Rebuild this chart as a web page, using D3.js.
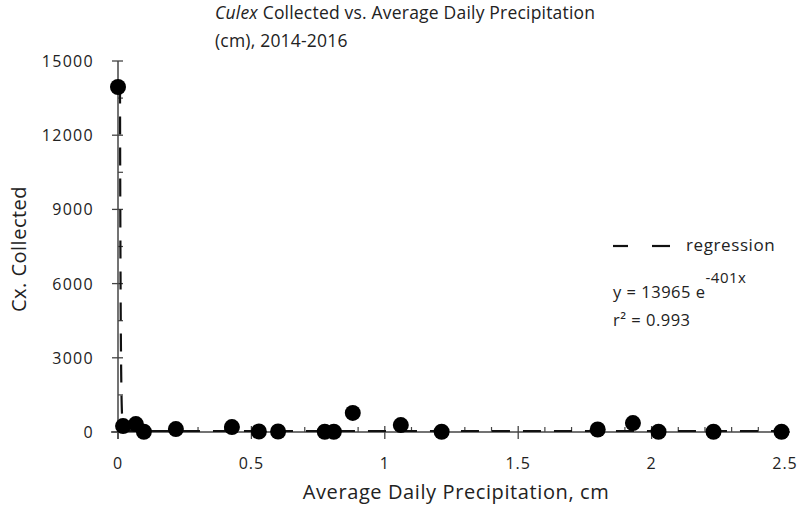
<!DOCTYPE html>
<html>
<head>
<meta charset="utf-8">
<script src="https://cdn.jsdelivr.net/npm/d3@7"></script>
<style>
  body { margin: 0; background: #fff; }
  svg { display: block; }
  text { font-family: "Open Sans", sans-serif; fill: #222; }
</style>
</head>
<body>
<svg id="chart" width="797" height="510"></svg>
<script>
// precipitation (cm) and Culex count
const precip = [0, 0.019, 0.067, 0.097, 0.217, 0.427, 0.528, 0.60, 0.775, 0.809, 0.880, 1.06, 1.213, 1.798, 1.93, 2.026, 2.232, 2.487];
const culex  = [13950, 240, 320, 10, 120, 200, 20, 20, 10, 10, 770, 280, 10, 100, 360, 10, 10, 10];
const yTicks = [0, 3000, 6000, 9000, 12000, 15000];
const xTicks = [0, 0.5, 1, 1.5, 2, 2.5];
const regA = 13965, regB = -401;

const svg = d3.select('#chart');
const mLeft = 118, mRight = 785, mTop = 61, mBottom = 432;

const x = d3.scaleLinear().domain([0, 2.5]).range([mLeft, mRight]);
const y = d3.scaleLinear().domain([0, 15000]).range([mBottom, mTop]);

// title
const title = svg.append('text').attr('x', 215).attr('y', 19)
  .style('font-size', '17.5px').style('letter-spacing', '0.2px');
title.append('tspan').style('font-style', 'italic').text('Culex');
title.append('tspan').text(' Collected vs. Average Daily Precipitation');
svg.append('text').attr('x', 215).attr('y', 47)
  .style('font-size', '17.5px').style('letter-spacing', '0.2px').text('(cm), 2014-2016');

// y axis
const yAxis = svg.append('g');
yAxis.append('line').attr('x1', mLeft).attr('x2', mLeft).attr('y1', mTop).attr('y2', mBottom + 7)
  .attr('stroke', '#444').attr('stroke-width', 1.5);
yAxis.selectAll('.maj').data(yTicks).join('line')
  .attr('x1', mLeft - 6).attr('x2', mLeft + 5)
  .attr('y1', d => y(d)).attr('y2', d => y(d))
  .attr('stroke', '#444').attr('stroke-width', 1.3);
yAxis.selectAll('.min').data(d3.range(1500, 15000, 3000)).join('line')
  .attr('x1', mLeft).attr('x2', mLeft + 5)
  .attr('y1', d => y(d)).attr('y2', d => y(d))
  .attr('stroke', '#444').attr('stroke-width', 1.2);
yAxis.selectAll('text').data(yTicks).join('text')
  .attr('x', 94).attr('y', d => y(d) + 6)
  .attr('text-anchor', 'end').style('font-size', '16px').style('letter-spacing', '1.3px')
  .text(d => d);

// x axis
const xAxis = svg.append('g');
xAxis.append('line').attr('x1', mLeft - 7).attr('x2', mRight + 5).attr('y1', mBottom).attr('y2', mBottom)
  .attr('stroke', '#444').attr('stroke-width', 1.5);
xAxis.selectAll('.maj').data(xTicks).join('line')
  .attr('x1', d => x(d)).attr('x2', d => x(d))
  .attr('y1', mBottom - 6).attr('y2', mBottom + 7)
  .attr('stroke', '#444').attr('stroke-width', 1.3);
xAxis.selectAll('.min').data(d3.range(1, 25).filter(i => i % 5 !== 0).map(i => i / 10)).join('line')
  .attr('x1', d => x(d)).attr('x2', d => x(d))
  .attr('y1', mBottom - 5).attr('y2', mBottom)
  .attr('stroke', '#444').attr('stroke-width', 1.2);
xAxis.selectAll('text').data(xTicks).join('text')
  .attr('x', d => x(d)).attr('y', 469)
  .attr('text-anchor', 'middle').style('font-size', '16px').style('letter-spacing', '1px')
  .text(d => d);

// axis titles
svg.append('text').attr('x', 456).attr('y', 499).attr('text-anchor', 'middle')
  .style('font-size', '20px').style('letter-spacing', '0.6px').text('Average Daily Precipitation, cm');
svg.append('text').attr('transform', 'translate(26,249) rotate(-90)').attr('text-anchor', 'middle')
  .style('font-size', '20px').style('letter-spacing', '0.5px').text('Cx. Collected');

// regression curve
const regPts = d3.range(0, 0.02, 0.0002).concat(d3.range(0.02, 2.5001, 0.05))
  .map(v => [v, regA * Math.exp(regB * v)]);
svg.append('path').datum(regPts)
  .attr('d', d3.line().x(d => x(d[0]) + 2).y(d => y(d[1]) - 1))
  .attr('fill', 'none').attr('stroke', '#111').attr('stroke-width', 2.2)
  .attr('stroke-dasharray', '18,13');

// points
svg.append('g').selectAll('circle').data(precip.map((p, i) => [p, culex[i]])).join('circle')
  .attr('cx', d => x(d[0])).attr('cy', d => y(d[1]))
  .attr('r', 8).attr('fill', '#000');

// legend + equation
svg.append('line').attr('x1', 613).attr('x2', 628).attr('y1', 246).attr('y2', 246)
  .attr('stroke', '#111').attr('stroke-width', 2.2);
svg.append('line').attr('x1', 652).attr('x2', 670).attr('y1', 246).attr('y2', 246)
  .attr('stroke', '#111').attr('stroke-width', 2.2);
svg.append('text').attr('x', 686).attr('y', 251)
  .style('font-size', '17px').style('letter-spacing', '0.6px').text('regression');

const eq = svg.append('text').attr('x', 613).attr('y', 298)
  .style('font-size', '16.5px').style('letter-spacing', '0.5px');
eq.append('tspan').text('y = ' + regA + ' e');
eq.append('tspan').attr('dy', -15).style('font-size', '15px').text(regB + 'x');
svg.append('text').attr('x', 613).attr('y', 326)
  .style('font-size', '16.5px').style('letter-spacing', '0.5px')
  .text('r\u00b2 = 0.993');
</script>
</body>
</html>
